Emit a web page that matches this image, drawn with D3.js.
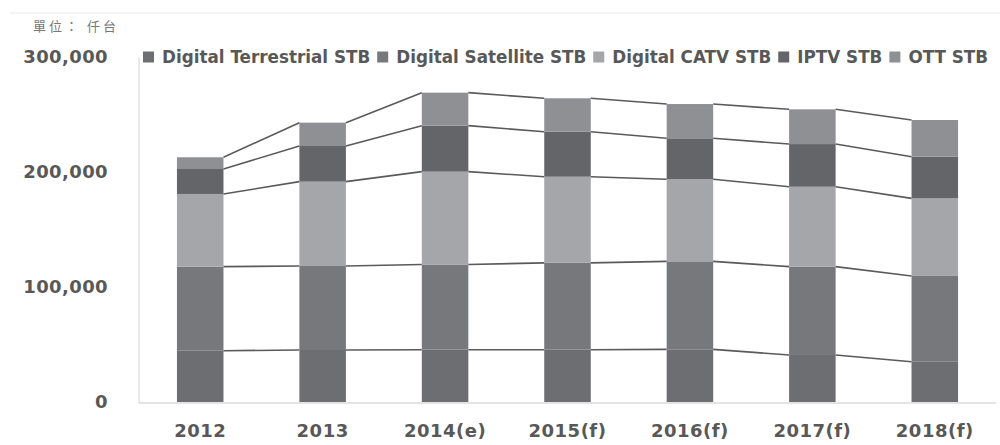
<!DOCTYPE html>
<html>
<head>
    <meta charset='utf-8'>
    <title>STB shipments</title>
    <script src="https://cdnjs.cloudflare.com/ajax/libs/d3/7.8.5/d3.min.js"></script>
    <style>
        body { margin: 0; background: #fff; }
        text { font-family: "DejaVu Sans", sans-serif; font-weight: bold; fill: #585858; }
    </style>
</head>
<body>
    <div id="chart"></div>
    <script>
// years on the x axis
const years = ["2012", "2013", "2014(e)", "2015(f)", "2016(f)", "2017(f)", "2018(f)"];

// series values, thousand units
const terrestrial = [44600, 45200, 45500, 45500, 45800, 40900, 35000];
const satellite   = [73100, 73100, 74100, 75500, 76500, 76800, 74600];
const catv        = [63200, 73300, 80700, 74900, 71400, 69500, 67500];
const iptv        = [21700, 31000, 40000, 39100, 35600, 37100, 36200];
const ott         = [10200, 20300, 28700, 29100, 29800, 30200, 31900];

const seriesNames = ["Digital Terrestrial STB", "Digital Satellite STB", "Digital CATV STB", "IPTV STB", "OTT STB"];
const seriesColors = ["#6c6e71", "#76787b", "#a4a6a9", "#646568", "#8f9093"];
const yTicks = [0, 100000, 200000, 300000];

const width = 1000, height = 445;
const margin = { left: 139, right: 4, top: 57, bottom: 42 };

const rows = years.map((y, i) => ({
    year: y,
    s0: terrestrial[i], s1: satellite[i], s2: catv[i], s3: iptv[i], s4: ott[i]
}));
const keys = ["s0", "s1", "s2", "s3", "s4"];
const stacked = d3.stack().keys(keys)(rows);

const svg = d3.select("#chart").append("svg")
    .attr("width", width)
    .attr("height", height);

// faint frame line at the top
svg.append("line")
    .attr("x1", 10).attr("x2", width).attr("y1", 13).attr("y2", 13)
    .style("stroke", "#e8e8e8");

// unit note
svg.append("text")
    .attr("x", 33).attr("y", 31)
    .style("font-family", "'Noto Sans CJK TC', sans-serif")
    .style("font-weight", "normal")
    .style("font-size", "13px")
    .style("letter-spacing", "3px")
    .style("fill", "#777")
    .text("單位： 仟台");

const x = d3.scaleBand()
    .domain(years)
    .range([margin.left, width - margin.right])
    .paddingInner(0.62)
    .paddingOuter(0.31);

const y = d3.scaleLinear()
    .domain([0, 300000])
    .range([height - margin.bottom - 1, margin.top]);

// axis lines
svg.append("line")
    .attr("x1", margin.left).attr("x2", margin.left)
    .attr("y1", margin.top).attr("y2", y(0) + 1)
    .style("stroke", "#d4d4d4");
svg.append("line")
    .attr("x1", margin.left).attr("x2", width - margin.right)
    .attr("y1", y(0) + 1).attr("y2", y(0) + 1)
    .style("stroke", "#c8c8c8");

// bars
const layers = svg.selectAll("g.layer")
    .data(stacked)
    .enter()
    .append("g")
    .attr("class", "layer")
    .style("fill", (d, i) => seriesColors[i]);

layers.selectAll("rect")
    .data(d => d)
    .enter()
    .append("rect")
    .attr("x", d => x(d.data.year))
    .attr("y", d => y(d[1]))
    .attr("width", x.bandwidth())
    .attr("height", d => y(d[0]) - y(d[1]));

// series lines between bars
stacked.forEach(layer => {
    for (let i = 0; i < layer.length - 1; i++) {
        svg.append("line")
            .attr("x1", x(years[i]) + x.bandwidth())
            .attr("y1", y(layer[i][1]))
            .attr("x2", x(years[i + 1]))
            .attr("y2", y(layer[i + 1][1]))
            .style("stroke", "#5a5a5a")
            .style("stroke-width", 1.6);
    }
});

// y labels
svg.selectAll("text.ytick")
    .data(yTicks)
    .enter()
    .append("text")
    .attr("class", "ytick")
    .attr("x", 108)
    .attr("y", d => y(d))
    .attr("dy", "0.36em")
    .attr("text-anchor", "end")
    .style("font-size", "18px")
    .style("letter-spacing", "0.4px")
    .text(d => d3.format(",")(d));

// x labels
svg.selectAll("text.xtick")
    .data(years)
    .enter()
    .append("text")
    .attr("class", "xtick")
    .attr("x", d => x(d) + x.bandwidth() / 2)
    .attr("y", 431)
    .attr("dy", "0.36em")
    .attr("text-anchor", "middle")
    .style("font-size", "18px")
    .style("letter-spacing", "0.5px")
    .text(d => d);

// legend, laid out left to right
const legend = svg.append("g").attr("transform", "translate(143,57)");
let lx = 0;
seriesNames.forEach((name, i) => {
    legend.append("rect")
        .attr("x", lx).attr("y", -5.5)
        .attr("width", 11).attr("height", 11)
        .style("fill", seriesColors[i]);
    const t = legend.append("text")
        .attr("x", lx + 19)
        .attr("dy", "0.36em")
        .style("font-size", "16.8px")
        .text(name);
    lx += 19 + t.node().getComputedTextLength() + 7;
});
    </script>
</body>
</html>
